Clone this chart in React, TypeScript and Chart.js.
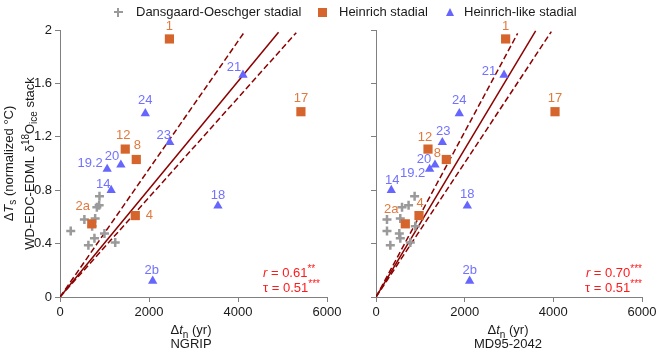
import React, { useEffect, useRef } from 'react';
import { Chart, registerables } from 'chart.js';

Chart.register(...registerables);

// ---------- data ----------
const X_TICKS = [0, 2000, 4000, 6000];
const Y_TICKS = [0, 0.4, 0.8, 1.2, 1.6, 2];

// Heinrich stadials (squares)
const HS_LABELS = ['1', '17', '12', '8', '4', '2a'];
const HS_Y = [1.933, 1.388, 1.108, 1.03, 0.61, 0.548];
const HS_X_NGRIP = [2459, 5414, 1466, 1714, 1692, 714];
const HS_X_MD = [2924, 4038, 1173, 1586, 970, 661];

// Heinrich-like stadials (triangles)
const HL_LABELS = ['21', '24', '23', '20', '19.2', '14', '18', '2b'];
const HL_Y = [1.663, 1.375, 1.158, 0.99, 0.958, 0.8, 0.683, 0.12];
const HL_X_NGRIP = [4112, 1917, 2466, 1368, 1060, 1150, 3549, 2083];
const HL_X_MD = [2888, 1879, 1496, 1331, 1210, 345, 2060, 2112];

// Dansgaard-Oeschger stadials (crosses)
const DO_Y = [0.755, 0.688, 0.672, 0.588, 0.58, 0.495, 0.475, 0.53, 0.44, 0.408, 0.388];
const DO_X_NGRIP = [887, 880, 828, 790, 548, 241, 999, 722, 774, 1241, 638];
const DO_X_MD = [871, 735, 587, 548, 248, 248, 526, 887, 548, 774, 323];

// regression line (solid) and confidence bounds (dashed), from origin to end point
const FIT_KIND = ['solid', 'upper', 'lower'];
const FIT_END_X_NGRIP = [4911, 4144, 5309];
const FIT_END_Y_NGRIP = [1.983, 1.985, 1.98];
const FIT_END_X_MD = [3601, 3195, 3955];
const FIT_END_Y_MD = [1.993, 1.975, 1.988];

const STAT_NGRIP = { r: '0.61', rStars: '**', tau: '0.51', tauStars: '***' };
const STAT_MD = { r: '0.70', rStars: '***', tau: '0.51', tauStars: '***' };

// label offsets (px) relative to markers
const HS_OFF_NGRIP = [[0, -13], [0, -13], [-2, -14], [1, -14], [14, 0], [-9, -17]];
const HL_OFF_NGRIP = [[-9, -8], [0, -13], [-6, -7], [-9, -8], [-17, -6], [-8, -6], [0, -10], [-1, -11]];
const HS_OFF_MD = [[0, -13], [0, -13], [-3, -12], [-9, -6], [1, -12], [-14, -14]];
const HL_OFF_MD = [[-15, -4], [0, -13], [1, -11], [-11, -5], [-17, 4], [1, -10], [0, -11], [0, -11]];

// ---------- styles ----------
const FONT = '"Liberation Sans", Arial, Helvetica, sans-serif';
const C_DO = '#9a9a9a';
const C_HS = '#D5652C';
const C_HS_LABEL = '#E07A3E';
const C_HL = '#6666FF';
const C_HL_LABEL = '#7272FF';
const C_FIT = '#8B0000';
const C_STAT = '#FF1A1A';
const C_AXIS = '#808080';
const C_TEXT = '#1a1a1a';

type Seg = { t: string; i?: boolean; sub?: boolean; sup?: boolean };

function drawRich(ctx: CanvasRenderingContext2D, segs: Seg[], x: number, cy: number, size: number,
  color: string, align: string, rotate: boolean) {
  ctx.save();
  ctx.translate(x, cy);
  if (rotate) ctx.rotate(-Math.PI / 2);
  ctx.fillStyle = color;
  ctx.textBaseline = 'alphabetic';
  ctx.textAlign = 'left';
  const fontOf = (s: Seg) => `${s.i ? 'italic ' : ''}${s.sub || s.sup ? Math.round(size * 0.75) : size}px ${FONT}`;
  let total = 0;
  const widths = segs.map((s) => {
    ctx.font = fontOf(s);
    const w = ctx.measureText(s.t).width;
    total += w;
    return w;
  });
  let cx = align === 'left' ? 0 : align === 'right' ? -total : -total / 2;
  const base = size * 0.36;
  segs.forEach((s, k) => {
    ctx.font = fontOf(s);
    const dy = s.sub ? size * 0.28 : s.sup ? -size * 0.36 : 0;
    ctx.fillText(s.t, cx, base + dy);
    cx += widths[k];
  });
  ctx.restore();
}

const overlayPlugin = {
  id: 'overlay',
  afterDatasetsDraw(chart: any, _args: any, opts: any) {
    const ctx = chart.ctx as CanvasRenderingContext2D;
    const xs = chart.scales.x;
    const ys = chart.scales.y;
    (opts.groups || []).forEach((g: any) => {
      ctx.save();
      ctx.font = `13px ${FONT}`;
      ctx.fillStyle = g.color;
      ctx.textAlign = 'center';
      ctx.textBaseline = 'middle';
      g.labels.forEach((lab: string, k: number) => {
        const px = xs.getPixelForValue(g.x[k]) + g.off[k][0];
        const py = ys.getPixelForValue(g.y[k]) + g.off[k][1];
        ctx.fillText(lab, px, py);
      });
      ctx.restore();
    });
    (opts.texts || []).forEach((t: any) =>
      drawRich(ctx, t.segs, t.x, t.y, t.size || 13, t.color || C_TEXT, t.align || 'center', !!t.rotate));
  },
};

function statTexts(stat: any, x: number, align: string) {
  return [
    { segs: [{ t: 'r', i: true }, { t: ' = ' + stat.r }, { t: stat.rStars, sup: true }], x, y: 272, color: C_STAT, align },
    { segs: [{ t: 'τ = ' + stat.tau }, { t: stat.tauStars, sup: true }], x, y: 287, color: C_STAT, align },
  ];
}

function makeConfig(p: any) {
  const fitSets = FIT_KIND.map((kind, k) => ({
    label: 'fit-' + kind,
    data: [{ x: 0, y: 0 }, { x: p.fitX[k], y: p.fitY[k] }],
    showLine: true,
    pointRadius: 0,
    borderColor: C_FIT,
    borderWidth: 1.5,
    borderDash: kind === 'solid' ? [] : [6, 3],
    order: 10,
  }));
  return {
    type: 'scatter',
    data: {
      datasets: [
        ...fitSets,
        {
          label: 'Dansgaard-Oeschger stadial',
          data: DO_Y.map((y, k) => ({ x: p.doX[k], y })),
          pointStyle: 'cross', pointRadius: 4.5, borderWidth: 2.5,
          borderColor: C_DO, backgroundColor: C_DO, order: 3,
        },
        {
          label: 'Heinrich stadial',
          data: HS_Y.map((y, k) => ({ x: p.hsX[k], y })),
          pointStyle: 'rect', pointRadius: 6.5, borderWidth: 0,
          borderColor: C_HS, backgroundColor: C_HS, order: 2,
        },
        {
          label: 'Heinrich-like stadial',
          data: HL_Y.map((y, k) => ({ x: p.hlX[k], y })),
          pointStyle: 'triangle', pointRadius: 5.4, borderWidth: 0,
          borderColor: C_HL, backgroundColor: C_HL, order: 1,
        },
      ],
    },
    options: {
      responsive: false,
      animation: false,
      devicePixelRatio: 1,
      events: [],
      layout: { padding: { top: 30, right: p.padRight, left: 0, bottom: 0 } },
      plugins: {
        legend: { display: false },
        tooltip: { enabled: false },
        overlay: {
          groups: [
            { labels: HS_LABELS, x: p.hsX, y: HS_Y, off: p.hsOff, color: C_HS_LABEL },
            { labels: HL_LABELS, x: p.hlX, y: HL_Y, off: p.hlOff, color: C_HL_LABEL },
          ],
          texts: p.texts,
        },
      },
      scales: {
        x: {
          type: 'linear',
          min: X_TICKS[0],
          max: X_TICKS[X_TICKS.length - 1],
          afterBuildTicks(scale: any) { scale.ticks = X_TICKS.map((v) => ({ value: v })); },
          ticks: { font: { size: 13, family: FONT }, color: C_TEXT, padding: 3, autoSkip: false, maxRotation: 0,
            callback: (v: any) => String(v) },
          grid: { display: true, drawOnChartArea: false, drawTicks: true, tickLength: 5, color: C_AXIS, lineWidth: 1 },
          border: { display: true, color: C_AXIS, width: 1 },
          afterFit(scale: any) { scale.height = 54; scale.paddingLeft = 0; scale.paddingRight = 0; },
        },
        y: {
          type: 'linear',
          min: Y_TICKS[0],
          max: Y_TICKS[Y_TICKS.length - 1],
          afterBuildTicks(scale: any) { scale.ticks = Y_TICKS.map((v) => ({ value: v })); },
          ticks: { font: { size: 13, family: FONT }, color: C_TEXT, padding: 3, autoSkip: false,
            callback: (v: any) => (p.showYLabels ? String(Math.round(v * 10) / 10) : '') },
          grid: { display: true, drawOnChartArea: false, drawTicks: true, tickLength: 5, color: C_AXIS, lineWidth: 1 },
          border: { display: true, color: C_AXIS, width: 1 },
          afterFit(scale: any) { scale.width = p.yWidth; scale.paddingTop = 0; scale.paddingBottom = 0; },
        },
      },
    },
    plugins: [overlayPlugin],
  };
}

const xTitle: Seg[] = [{ t: 'Δ' }, { t: 't', i: true }, { t: 'n', sub: true }, { t: ' (yr)' }];

const LEFT_PANEL = {
  hsX: HS_X_NGRIP, hlX: HL_X_NGRIP, doX: DO_X_NGRIP,
  fitX: FIT_END_X_NGRIP, fitY: FIT_END_Y_NGRIP,
  hsOff: HS_OFF_NGRIP, hlOff: HL_OFF_NGRIP,
  padRight: 18, yWidth: 60, showYLabels: true,
  texts: [
    ...statTexts(STAT_NGRIP, 263, 'left'),
    { segs: xTitle, x: 191, y: 329.5 },
    { segs: [{ t: 'NGRIP' }], x: 191, y: 343 },
    { segs: [{ t: 'Δ' }, { t: 'T', i: true }, { t: 's', sub: true }, { t: ' (normalized °C)' }], x: 8, y: 163.5, rotate: true },
    { segs: [{ t: 'WD-EDC-EDML δ' }, { t: '18', sup: true }, { t: 'O' }, { t: 'ice', sub: true }, { t: ' stack' }], x: 29, y: 163.5, rotate: true },
  ],
};

const RIGHT_PANEL = {
  hsX: HS_X_MD, hlX: HL_X_MD, doX: DO_X_MD,
  fitX: FIT_END_X_MD, fitY: FIT_END_Y_MD,
  hsOff: HS_OFF_MD, hlOff: HL_OFF_MD,
  padRight: 15, yWidth: 46, showYLabels: false,
  texts: [
    ...statTexts(STAT_MD, 312, 'right'),
    { segs: xTitle, x: 178, y: 329.5 },
    { segs: [{ t: 'MD95-2042' }], x: 178, y: 343 },
  ],
};

function Panel({ cfg, left, width }: { cfg: any; left: number; width: number }) {
  const ref = useRef<HTMLCanvasElement | null>(null);
  useEffect(() => {
    if (!ref.current) return;
    const chart = new Chart(ref.current, makeConfig(cfg) as any);
    return () => chart.destroy();
  }, []);
  return (
    <canvas ref={ref} width={width} height={351}
      style={{ position: 'absolute', left, top: 0, width, height: 351 }} />
  );
}

const legendText: React.CSSProperties = {
  position: 'absolute', top: 4, font: `13px ${FONT}`, color: C_TEXT, lineHeight: '16px', whiteSpace: 'nowrap',
};

function Legend() {
  return (
    <>
      <div style={{ position: 'absolute', left: 113.5, top: 10.75, width: 9, height: 2.5, background: C_DO }} />
      <div style={{ position: 'absolute', left: 116.75, top: 7.5, width: 2.5, height: 9, background: C_DO }} />
      <span style={{ ...legendText, left: 136 }}>Dansgaard-Oeschger stadial</span>
      <div style={{ position: 'absolute', left: 317.5, top: 7.5, width: 9, height: 9, background: C_HS }} />
      <span style={{ ...legendText, left: 339 }}>Heinrich stadial</span>
      <div style={{ position: 'absolute', left: 446, top: 8, width: 0, height: 0,
        borderLeft: '4.5px solid transparent', borderRight: '4.5px solid transparent', borderBottom: `8px solid ${C_HL}` }} />
      <span style={{ ...legendText, left: 464 }}>Heinrich-like stadial</span>
    </>
  );
}

export default function App() {
  return (
    <div style={{ position: 'fixed', left: 0, top: 0, width: 657, height: 351, background: '#ffffff', overflow: 'hidden' }}>
      <Panel cfg={LEFT_PANEL} left={0} width={345} />
      <Panel cfg={RIGHT_PANEL} left={330} width={327} />
      <Legend />
    </div>
  );
}
